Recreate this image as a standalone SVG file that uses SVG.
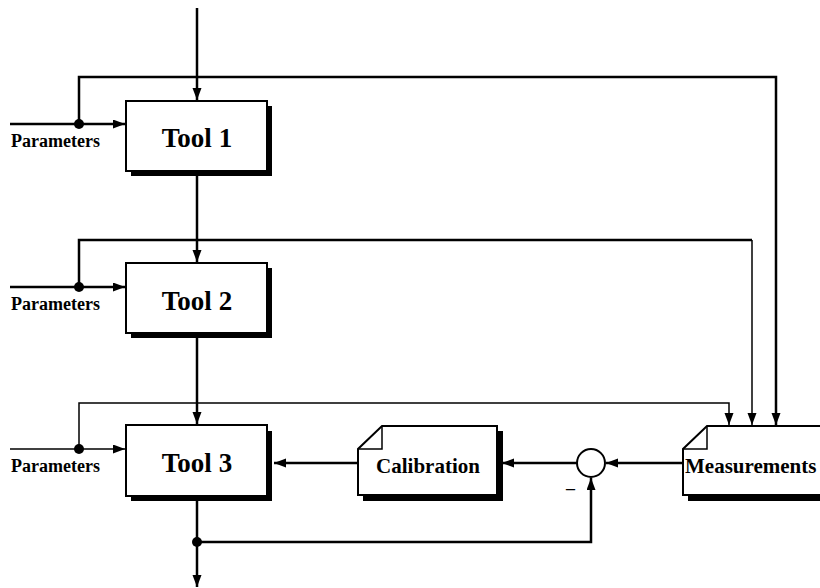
<svg xmlns="http://www.w3.org/2000/svg" width="820" height="588" viewBox="0 0 820 588">
<defs>
<style>
.ln{fill:none;stroke:#000;stroke-width:2.5}
.thin{fill:none;stroke:#000;stroke-width:1.5}
.box{fill:#fff;stroke:#000;stroke-width:2}
.sh{fill:#000}
.t{font-family:"Liberation Serif","Times New Roman",serif;font-weight:bold;fill:#000}
.tool{font-size:27px;text-anchor:middle}
.lab{font-size:21px}
.par{font-size:18px}
</style>
<marker id="ah" markerUnits="userSpaceOnUse" markerWidth="13" markerHeight="10" refX="12" refY="4.5" orient="auto">
<path d="M0,0 L12,4.5 L0,9 z" fill="#000"/>
</marker>
</defs>
<g id="connectors">
<line class="ln" x1="197" y1="8" x2="197" y2="100" marker-end="url(#ah)"/>
<line class="ln" x1="197" y1="172" x2="197" y2="262" marker-end="url(#ah)"/>
<line class="ln" x1="197" y1="334" x2="197" y2="424" marker-end="url(#ah)"/>
<line class="ln" x1="197" y1="497" x2="197" y2="587" marker-end="url(#ah)"/>
<line class="ln" x1="10" y1="124" x2="125" y2="124" marker-end="url(#ah)"/>
<line class="ln" x1="10" y1="287" x2="125" y2="287" marker-end="url(#ah)"/>
<line class="thin" x1="10" y1="449" x2="125" y2="449" marker-end="url(#ah)"/>
<polyline class="ln" points="79,124 79,77 776,77 776,425" marker-end="url(#ah)"/>
<polyline class="ln" points="79,287 79,240 752,240" />
<polyline class="thin" points="752,240 752,425" marker-end="url(#ah)"/>
<polyline class="thin" points="79,449 79,403 729,403 729,425" marker-end="url(#ah)"/>
<line class="ln" x1="358" y1="463" x2="274" y2="463" marker-end="url(#ah)"/>
<line class="ln" x1="577" y1="463" x2="502" y2="463" marker-end="url(#ah)"/>
<line class="ln" x1="683" y1="463" x2="606" y2="463" marker-end="url(#ah)"/>
<polyline class="ln" points="197,542 591,542 591,478" marker-end="url(#ah)"/>
<circle cx="79" cy="124" r="5" fill="#000"/>
<circle cx="79" cy="287" r="5" fill="#000"/>
<circle cx="79" cy="449" r="5" fill="#000"/>
<circle cx="197" cy="542" r="5" fill="#000"/>
<text class="t par" x="566" y="494">–</text>
</g>
<g id="tool1">
<rect class="sh" x="131" y="106" width="141" height="70"/>
<rect class="box" x="126" y="101" width="141" height="70"/>
<text class="t tool" x="197" y="147">Tool 1</text>
<text class="t par" x="11" y="147">Parameters</text>
</g>
<g id="tool2">
<rect class="sh" x="131" y="268" width="141" height="70"/>
<rect class="box" x="126" y="263" width="141" height="70"/>
<text class="t tool" x="197" y="310">Tool 2</text>
<text class="t par" x="11" y="310">Parameters</text>
</g>
<g id="tool3">
<rect class="sh" x="131" y="431" width="141" height="70"/>
<rect class="box" x="126" y="425" width="141" height="71"/>
<text class="t tool" x="197" y="472">Tool 3</text>
<text class="t par" x="11" y="472">Parameters</text>
</g>
<g id="calibration">
<path class="sh" d="M387,431 H503 V501 H363 V454 Z"/>
<path class="box" d="M382,426 H497 V495 H358 V449 Z"/>
<path class="thin" d="M382,426 V449 H358"/>
<text class="t lab" x="428" y="473" text-anchor="middle">Calibration</text>
</g>
<g id="sum">
<circle cx="591" cy="463" r="14" fill="#fff" stroke="#000" stroke-width="2"/>
</g>
<g id="measurements">
<path class="sh" d="M712,431 H822 V501 H688 V454 Z"/>
<path class="box" d="M707,426 H822 V495 H683 V449 Z"/>
<path class="thin" d="M707,426 V449 H683"/>
<text class="t lab" x="685" y="473">Measurements</text>
</g>
</svg>
